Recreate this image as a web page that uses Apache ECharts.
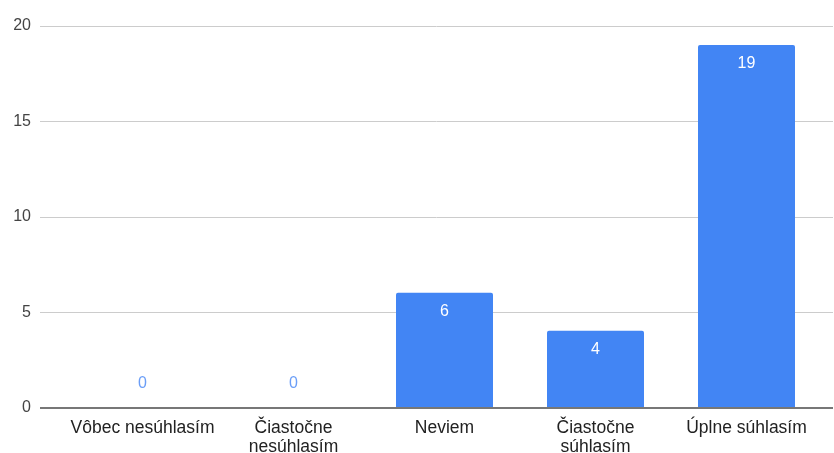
<!DOCTYPE html>
<html>
<head>
<meta charset="utf-8">
<script src="https://cdn.jsdelivr.net/npm/echarts@6/dist/echarts.min.js"></script>
<style>
html,body{margin:0;padding:0;background:#fff;}
#chart{width:834px;height:453px;}
</style>
</head>
<body>
<div id="chart"></div>
<script>
var categories = ['Vôbec nesúhlasím', 'Čiastočne\nnesúhlasím', 'Neviem', 'Čiastočne\nsúhlasím', 'Úplne súhlasím'];
var answers = [0, 0, 6, 4, 19];
var yTicks = [0, 5, 10, 15, 20];

var barColor = '#4285f4';
var font = '"Liberation Sans", Arial, sans-serif';

// zero values get their label above the axis, in blue
var barData = answers.map(function(v){
	if (v === 0){
		return {value: v, label: {position: 'top', distance: 15, color: '#6b9ef7'}};
	}
	return v;
});

var chart = echarts.init(document.getElementById('chart'));
chart.setOption({
	animation: false,
	grid: [
		// grid for gridlines / y labels, spans full width
		{left: 40, right: 1, top: 26, bottom: 45, outerBoundsMode: 'none'},
		// grid for the bars
		{left: 67, right: 12, top: 26, bottom: 46, outerBoundsMode: 'none'}
	],
	xAxis: [
		{
			gridIndex: 0, type: 'value', min: 0, max: 1,
			axisLine: {show: false}, axisTick: {show: false},
			axisLabel: {show: false}, splitLine: {show: false}
		},
		{
			gridIndex: 1, type: 'category', data: categories,
			axisLine: {show: false}, axisTick: {show: false},
			axisLabel: {color: '#222', fontSize: 17.5, fontFamily: font, margin: 12, lineHeight: 18.5, interval: 0}
		}
	],
	yAxis: [
		{
			gridIndex: 0, type: 'value', min: yTicks[0], max: yTicks[yTicks.length - 1], interval: 5,
			axisLine: {show: false}, axisTick: {show: false},
			axisLabel: {color: '#444', fontSize: 16, fontFamily: font, margin: 9},
			splitLine: {lineStyle: {color: '#cccccc', width: 1}}
		},
		{
			gridIndex: 1, type: 'value', min: yTicks[0], max: yTicks[yTicks.length - 1], interval: 5,
			show: false
		}
	],
	series: [
		{
			type: 'line', xAxisIndex: 0, yAxisIndex: 0,
			data: [[0, 0], [1, 0]], symbol: 'none', silent: true,
			lineStyle: {color: '#777', width: 2}, z: 5
		},
		{
			type: 'bar', xAxisIndex: 1, yAxisIndex: 1,
			data: barData, barWidth: 97,
			itemStyle: {color: barColor, borderRadius: [2, 2, 0, 0]},
			label: {
				show: true, position: 'insideTop', distance: 11,
				color: '#fff', fontSize: 16, fontFamily: font
			},
			z: 3
		}
	]
});
</script>
</body>
</html>
